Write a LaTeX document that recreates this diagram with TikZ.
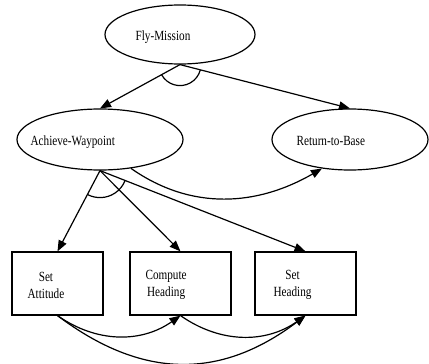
\documentclass[tikz,border=0pt]{standalone}
\usepackage{fontspec}
\setmainfont[FakeStretch=0.8]{Liberation Serif}
\usetikzlibrary{arrows.meta,shapes.geometric}
\begin{document}
\begin{tikzpicture}[x=1pt,y=-1pt,
  every path/.style={line width=1.2pt},
  goal/.style={draw,ellipse,inner sep=0pt,line width=1.2pt},
  task/.style={draw,rectangle,inner sep=0pt,line width=1.2pt,minimum height=63pt},
  txt/.style={inner sep=0pt,font=\fontsize{14}{17}\selectfont},
  link/.style={-{Triangle[length=11pt,width=8.5pt]}},
]
\useasboundingbox (0,0) rectangle (429,364);

% goal ellipses
\node[goal,minimum width=150pt,minimum height=59pt] (fm) at (180,34.5) {};
\node[goal,minimum width=166pt,minimum height=61pt] (aw) at (100,139.5) {};
\node[goal,minimum width=156pt,minimum height=61pt] (rb) at (350,139.5) {};

\node[txt,anchor=base west] (fmt) at (135,41) {Fly-Mission};
\node[txt,anchor=base west] (awt) at (30,145.5) {Achieve-Waypoint};
\node[txt,anchor=base west] (rbt) at (296,145.5) {Return-to-Base};

% primitive tasks
\node[task,minimum width=91pt] (sa) at (57.5,283.5) {};
\node[task,minimum width=101pt] (ch) at (180.5,283.5) {};
\node[task,minimum width=101pt] (sh) at (305.5,283.5) {};

\node[txt,anchor=west,align=center] (sat) at (27,285) {Set\\Attitude};
\node[txt,anchor=west,align=center] (cht) at (145,285) {Compute\\Heading};
\node[txt,anchor=west,align=center] (sht) at (273,285) {Set\\Heading};

% decomposition of Fly-Mission (the arc marks an AND split)
\draw[link] (fm.south) -- (aw.north);
\draw[link] (fm.south) -- (rb.north);
\draw (fm.south) ++(151:21) arc[start angle=151,end angle=15,radius=21];

% ordering between the subgoals
\draw[link] (aw.-43) to[out=-35,in=-150] (rb.-134);

% decomposition of Achieve-Waypoint
\draw[link] (aw.south) -- (sa.north);
\draw[link] (aw.south) -- (ch.north);
\draw[link] (aw.south) -- (sh.north);
\draw (aw.south) ++(117:27) arc[start angle=117,end angle=22,radius=27];

% ordering between the tasks
\draw[link] (sa.south) to[out=-35,in=-145] (ch.south);
\draw[link] (ch.south) to[out=-35,in=-145] (sh.south);
\draw[link] (sa.south) to[out=-37,in=-143,looseness=1.1] (sh.south);
\end{tikzpicture}
\end{document}
